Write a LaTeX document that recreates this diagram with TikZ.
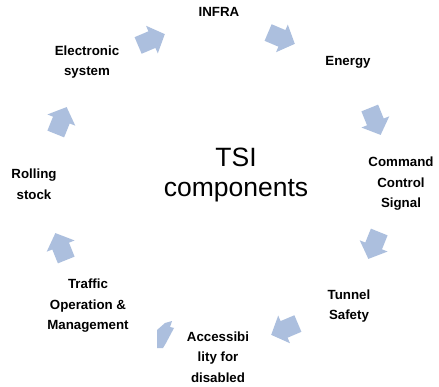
\documentclass[tikz,border=0pt]{standalone}
\usepackage{fontspec}
\setmainfont{Liberation Sans}
\definecolor{arrowfill}{RGB}{172,191,222}
\tikzset{
  lbl/.style={align=center, inner sep=0pt, font=\bfseries\fontsize{13.3}{20.5}\selectfont},
  blockarrow/.pic={\fill[arrowfill] (15,0) -- (1,15) -- (1,9) -- (-14,9) -- (-14,-9) -- (1,-9) -- (1,-15) -- cycle;}
}
\begin{document}
\begin{tikzpicture}[x=1pt,y=-1pt]
\path[use as bounding box, fill=white] (0,0) rectangle (439,387);
\node[align=center, inner sep=0pt, font=\fontsize{26.5}{30}\selectfont] (center) at (236,175) {TSI\\components};
\node[lbl] (infra) at (219,12) {INFRA};
\node[lbl] (energy) at (348,62) {Energy};
\node[lbl] (ccs) at (401,184) {Command\\Control\\Signal};
\node[lbl] (tunnel) at (349,306) {Tunnel\\Safety};
\node[lbl] (access) at (218,357) {Accessibi\\lity for\\disabled};
\node[lbl] (traffic) at (88,306) {Traffic\\Operation \&\\Management};
\node[lbl] (rolling) at (34,184) {Rolling\\stock};
\node[lbl] (elec) at (87,62) {Electronic\\system};
\pic[rotate=23] at (151,40) {blockarrow};
\pic[rotate=-23] at (281,38) {blockarrow};
\pic[rotate=-68] at (375,121) {blockarrow};
\pic[rotate=-112] at (374,245) {blockarrow};
\pic[rotate=-157] at (285,329) {blockarrow};
\fill[arrowfill] (157,348) -- (157,330) -- (165,323) -- (172,321) -- (170,327) -- (174,328) -- (166,343) -- (163,348) -- cycle;
\pic[rotate=112] at (61,247) {blockarrow};
\pic[rotate=68] at (61,121) {blockarrow};
\end{tikzpicture}
\end{document}
